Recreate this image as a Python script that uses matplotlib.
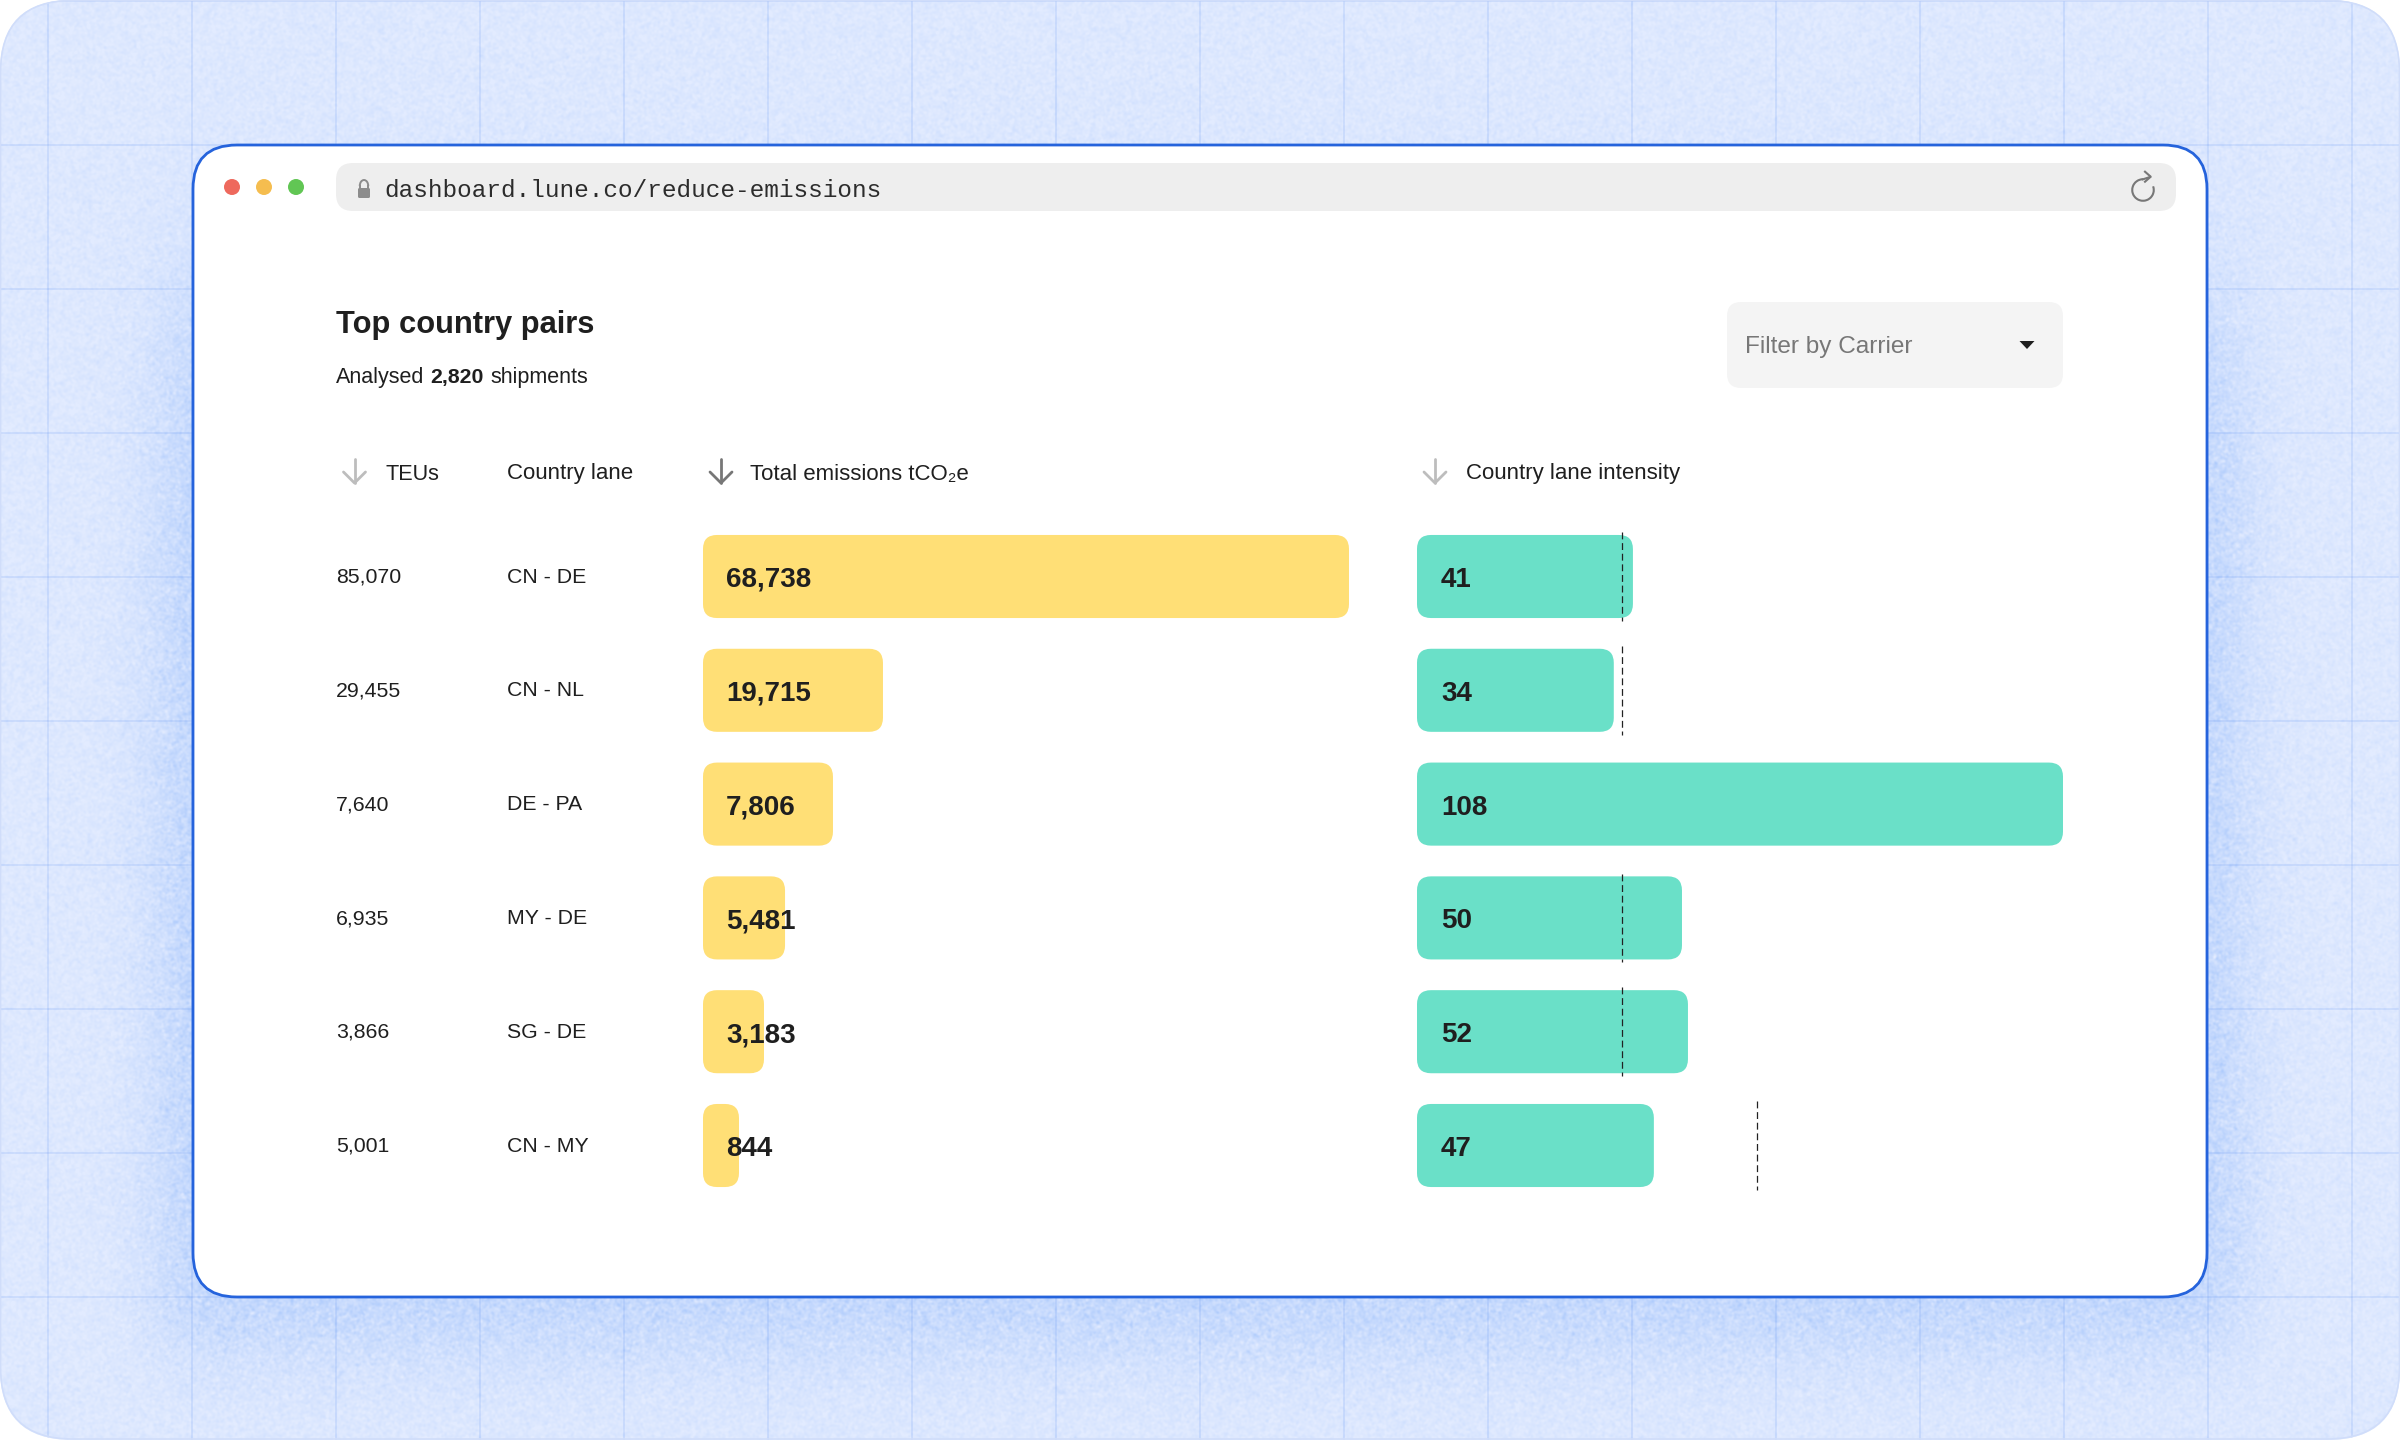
import numpy as np
import matplotlib
matplotlib.use("Agg")
import matplotlib.pyplot as plt
from matplotlib.patches import FancyBboxPatch, Circle, Arc, Polygon
from matplotlib.transforms import blended_transform_factory

plt.rcParams["font.family"] = ["Liberation Sans", "DejaVu Sans"]

# Data
lanes = ["CN - DE", "CN - NL", "DE - PA", "MY - DE", "SG - DE", "CN - MY"]
teus = [85070, 29455, 7640, 6935, 3866, 5001]
emissions = [68738, 19715, 7806, 5481, 3183, 844]
intensity = [41, 34, 108, 50, 52, 47]
# the drawn bars are not proportional to their labels, so lengths are read separately
emissions_drawn = [68738, 19150, 13830, 8730, 6490, 3830]
intensity_drawn = [36.1, 32.9, 108, 44.3, 45.3, 39.6]
benchmark = [34.2, 34.2, np.nan, 34.2, 34.2, 56.8]

W, H = 2400, 1440
TEXT = "#1f1f1f"


def sigmoid(v):
    return 1 / (1 + np.exp(-v))


def background():
    """Paper texture and soft window shadow for the backdrop."""
    yy, xx = np.mgrid[0:H, 0:W]
    shadow = (sigmoid((xx - 160) / 20) - sigmoid((xx - 2240) / 20)) * (sigmoid((yy - 300) / 60) - sigmoid((yy - 1345) / 28))
    rng = np.random.default_rng(7)
    spec = np.fft.rfft2(rng.normal(size=(H, W)))
    fy = np.fft.fftfreq(H)[:, None]
    fx = np.fft.rfftfreq(W)[None, :]
    noise = np.fft.irfft2(spec * np.exp(-(fx**2 + fy**2) * 2 * (np.pi * 1.1) ** 2), s=(H, W))
    noise = noise / noise.std()
    weight = np.clip(0.62 * shadow + 0.085 * noise * (0.7 + shadow) + 0.08, 0, 1)[..., None]
    light = np.array([226, 235, 255]) / 255
    dark = np.array([176, 204, 252]) / 255
    return light + (dark - light) * weight


def rounded(ax, x0, y0, x1, y1, radius, aspect=1.0, **kw):
    patch = FancyBboxPatch((x0, y0), x1 - x0, y1 - y0, boxstyle=f"round,pad=0,rounding_size={radius}",
                           mutation_aspect=aspect, **kw)
    ax.add_patch(patch)
    return patch


def down_arrow(ax, x, color):
    ax.plot([x, x], [459, 483], color=color, lw=2.0, solid_capstyle="round", zorder=5)
    ax.plot([x - 11, x, x + 11], [472, 483, 472], color=color, lw=2.0, solid_capstyle="round",
            solid_joinstyle="round", zorder=5)


def pixel_axes(zorder):
    ax = fig.add_axes([0, 0, 1, 1], facecolor="none", zorder=zorder)
    ax.set_xlim(0, W)
    ax.set_ylim(H, 0)
    ax.axis("off")
    return ax


def bar_panel(left, right, max_value):
    """One axes per bar column: x in the value's units, y in rows."""
    top, bottom = 519.6, 1202.4
    ax = fig.add_axes([left / W, 1 - bottom / H, (right - left) / W, (bottom - top) / H], facecolor="none", zorder=1)
    ax.set_xlim(0, max_value)
    ax.set_ylim(5.5, -0.5)
    ax.axis("off")
    return ax


fig = plt.figure(figsize=(W / 100, H / 100), dpi=100, facecolor="white")
main = pixel_axes(0)
labels = pixel_axes(2)

# backdrop
img = main.imshow(background(), extent=(0, W, H, 0), aspect="auto", zorder=0, interpolation="nearest")
clip = rounded(main, 0, 0, W, H, 72, facecolor="none", edgecolor="none")
img.set_clip_path(clip)
grid_x = np.arange(48, W, 144)
grid_y = np.arange(1, H, 144)
vl = main.vlines(grid_x, 0, H, color="#5c90f2", lw=1.1, alpha=0.2, zorder=1)
hl = main.hlines(grid_y, 0, W, color="#5c90f2", lw=1.1, alpha=0.2, zorder=1)
vl.set_clip_path(clip)
hl.set_clip_path(clip)
rounded(main, 0.5, 0.5, W - 0.5, H - 1, 72, facecolor="none", edgecolor="#d0ddfa", lw=1.2, zorder=1.5)

# browser window
rounded(main, 193, 145, 2207, 1297, 44, facecolor="white", edgecolor="#2563dc", lw=2.0, zorder=2)
for cx, col in zip([232, 264, 296], ["#ee695d", "#f5bd4f", "#61c654"]):
    main.add_patch(Circle((cx, 187), 8, facecolor=col, edgecolor="none", zorder=3))
rounded(main, 336, 163, 2176, 211, 17, facecolor="#eeeeee", edgecolor="none", zorder=3)
main.text(384, 190.5, "dashboard.lune.co/reduce-emissions", family="Liberation Mono", fontsize=17.55,
          color="#2c2c2c", va="center", zorder=5)
# lock icon
rounded(main, 358, 188, 370, 198, 1.5, facecolor="#8c8c8c", edgecolor="none", zorder=5)
main.add_patch(Arc((364, 186), 8.5, 12, theta1=180, theta2=360, color="#8c8c8c", lw=1.4, zorder=5))
main.plot([359.8, 359.8], [186, 189], color="#8c8c8c", lw=1.4, zorder=5)
main.plot([368.2, 368.2], [186, 189], color="#8c8c8c", lw=1.4, zorder=5)
# reload icon
main.add_patch(Arc((2143, 190), 21.5, 21.5, theta1=-20, theta2=270, color="#777777", lw=1.5, zorder=5))
main.plot([2143, 2150], [179.3, 177], color="#777777", lw=1.5, zorder=5)
main.plot([2145, 2150.7, 2145], [171.7, 176.7, 181.7], color="#777777", lw=1.5, zorder=5)

# heading and filter
main.text(336, 325.5, "Top country pairs", fontsize=22.2, fontweight="bold", color=TEXT, va="center", zorder=5)
main.text(336, 377, "Analysed", fontsize=15.5, color=TEXT, va="center", zorder=5)
main.text(430, 377, "2,820", fontsize=15.3, fontweight="bold", color=TEXT, va="center", zorder=5)
main.text(490, 377, "shipments", fontsize=15.5, color=TEXT, va="center", zorder=5)
rounded(main, 1727, 302, 2063, 388, 14, facecolor="#f4f4f4", edgecolor="none", zorder=3)
main.text(1745, 347, "Filter by Carrier", fontsize=17.6, color="#777777", va="center", zorder=5)
main.add_patch(Polygon([[2019.5, 341], [2034.5, 341], [2027, 349]], facecolor=TEXT, edgecolor="none", zorder=5))

# column headers
down_arrow(main, 354.5, "#bdbdbd")
down_arrow(main, 721, "#777777")
down_arrow(main, 1435, "#bdbdbd")
main.text(385, 474, "TEUs", fontsize=15.6, color=TEXT, va="center", zorder=5)
main.text(507, 474, "Country lane", fontsize=16, color=TEXT, va="center", zorder=5)
main.text(750, 474, "Total emissions tCO₂e", fontsize=16, color=TEXT, va="center", zorder=5)
main.text(1466, 474, "Country lane intensity", fontsize=16, color=TEXT, va="center", zorder=5)

# bar columns
ax_e = bar_panel(703, 1349, max(emissions_drawn))
ax_i = bar_panel(1417, 2063, max(intensity_drawn))
row_h = 0.73
row_px = 683 / 6
label_tr = blended_transform_factory(labels.transData, ax_e.transData)

for i in range(len(lanes)):
    labels.text(336, i + 0.006, f"{teus[i]:,}", transform=label_tr, fontsize=15.3, color=TEXT, va="center")
    labels.text(507, i + 0.006, lanes[i], transform=label_tr, fontsize=15.3, color=TEXT, va="center")

    # data units per pixel differ on both axes, mutation_aspect keeps the corners round
    asp_e = (1 / row_px) / (max(emissions_drawn) / 646)
    rounded(ax_e, 0, i - row_h / 2, emissions_drawn[i], i + row_h / 2, 14 * max(emissions_drawn) / 646, asp_e,
            facecolor="#ffdf76", edgecolor="none", zorder=2)
    labels.text(726, i + 0.03, f"{emissions[i]:,}", transform=label_tr, fontsize=20, fontweight="bold",
                color=TEXT, va="center")

    asp_i = (1 / row_px) / (max(intensity_drawn) / 646)
    rounded(ax_i, 0, i - row_h / 2, intensity_drawn[i], i + row_h / 2, 14 * max(intensity_drawn) / 646, asp_i,
            facecolor="#6ae0c8", edgecolor="none", zorder=2)
    labels.text(1441, i + 0.03, str(intensity[i]), transform=label_tr, fontsize=20, fontweight="bold",
                color=TEXT, va="center")
    ax_i.vlines(benchmark[i], i - 0.39, i + 0.39, color="#222222", lw=0.9, linestyles=(0, (5.5, 3)), zorder=3)

fig.savefig("out.png", dpi=100)
